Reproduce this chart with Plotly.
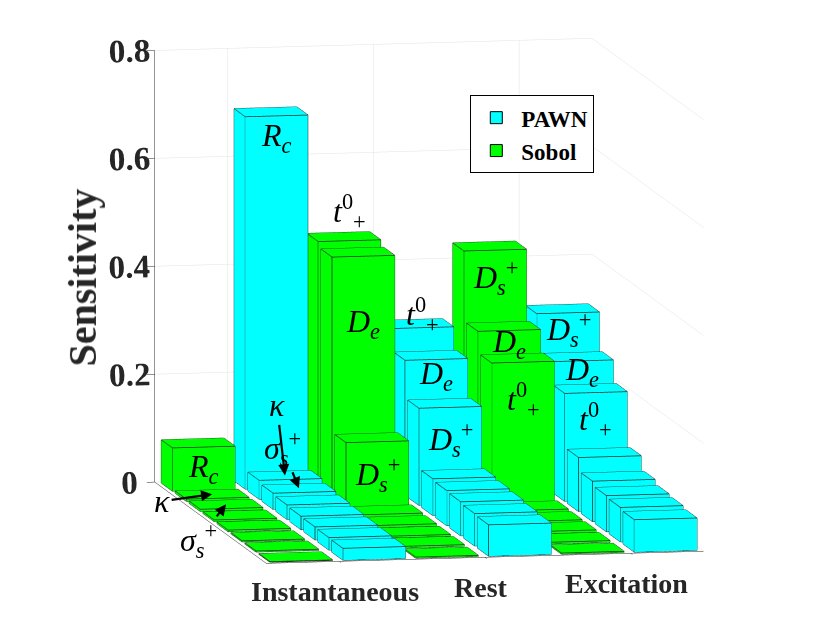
# %% Sensitivity bar3 chart (PAWN vs Sobol) rebuilt with Plotly mesh3d

import plotly.graph_objects as go


# %% Data

categories = ["Instantaneous", "Rest", "Excitation"]
methods = ["Sobol", "PAWN"]

# Each column is sorted from the back row to the front row (8 parameters).
sobol_instantaneous = [0.080, 0.004, 0.004, 0.003, 0.003, 0.002, 0.002, 0.001]
pawn_instantaneous = [0.690, 0.035, 0.030, 0.027, 0.025, 0.024, 0.023, 0.022]
sobol_rest = [0.455, 0.445, 0.120, 0.005, 0.004, 0.003, 0.003, 0.002]
pawn_rest = [0.290, 0.250, 0.180, 0.068, 0.065, 0.063, 0.060, 0.058]
sobol_excitation = [0.430, 0.300, 0.260, 0.005, 0.004, 0.004, 0.003, 0.002]
pawn_excitation = [0.310, 0.240, 0.200, 0.100, 0.075, 0.067, 0.064, 0.060]

# Parameter names of the labelled rows in each column.
names_sobol_instantaneous = ["Rc", "kappa", "sigma_s+"]
names_pawn_instantaneous = ["Rc", "kappa", "sigma_s+"]
names_sobol_rest = ["t+0", "De", "Ds+"]
names_pawn_rest = ["t+0", "De", "Ds+"]
names_sobol_excitation = ["Ds+", "De", "t+0"]
names_pawn_excitation = ["Ds+", "De", "t+0"]

category_ticks = [1.5, 3.5, 5.5]
z_ticks = [0, 0.2, 0.4, 0.6, 0.8]
z_tick_text = ["0", "0.2", "0.4", "0.6", "0.8"]


# %% Styles

colors = {"PAWN": "#00FFFF", "Sobol": "#00FF00"}
edge_color = "#2a2a2a"
axis_color = "#262626"
serif = "Liberation Serif"
bar_width = 0.86
bar_depth = 0.8

math_text = {
    "Rc": "<i>R</i><sub><i>c</i></sub>",
    "kappa": "<i>κ</i>",
    "sigma_s+": "<i>σ</i><sub><i>s</i></sub><sup>+</sup>",
    "t+0": "<i>t</i><sup>0</sup><sub>+</sub>",
    "De": "<i>D</i><sub><i>e</i></sub>",
    "Ds+": "<i>D</i><sub><i>s</i></sub><sup>+</sup>",
}

columns = [
    ("Sobol", sobol_instantaneous, names_sobol_instantaneous),
    ("PAWN", pawn_instantaneous, names_pawn_instantaneous),
    ("Sobol", sobol_rest, names_sobol_rest),
    ("PAWN", pawn_rest, names_pawn_rest),
    ("Sobol", sobol_excitation, names_sobol_excitation),
    ("PAWN", pawn_excitation, names_pawn_excitation),
]
n_rows = len(sobol_instantaneous)


# %% Build boxes

def box(xc, yc, height):
    x0, x1 = xc - bar_width / 2, xc + bar_width / 2
    y0, y1 = yc - bar_depth / 2, yc + bar_depth / 2
    vx = [x0, x1, x1, x0, x0, x1, x1, x0]
    vy = [y0, y0, y1, y1, y0, y0, y1, y1]
    vz = [0, 0, 0, 0, height, height, height, height]
    tri = [(0, 1, 2), (0, 2, 3), (4, 5, 6), (4, 6, 7),
           (0, 1, 5), (0, 5, 4), (3, 2, 6), (3, 6, 7),
           (0, 3, 7), (0, 7, 4), (1, 2, 6), (1, 6, 5)]
    edges = [(0, 1), (1, 2), (2, 3), (3, 0), (4, 5), (5, 6), (6, 7), (7, 4),
             (0, 4), (1, 5), (2, 6), (3, 7)]
    return vx, vy, vz, tri, edges


meshes = {m: {"x": [], "y": [], "z": [], "i": [], "j": [], "k": []} for m in methods}
ex, ey, ez = [], [], []

for col_index, (method, values, names) in enumerate(columns):
    xc = col_index + 1
    for row, value in enumerate(values):
        yc = n_rows - row  # row 0 is the back row
        vx, vy, vz, tri, edges = box(xc, yc, value)
        mesh = meshes[method]
        base = len(mesh["x"])
        mesh["x"] += vx
        mesh["y"] += vy
        mesh["z"] += vz
        for a, b, c in tri:
            mesh["i"].append(base + a)
            mesh["j"].append(base + b)
            mesh["k"].append(base + c)
        for a, b in edges:
            ex += [vx[a], vx[b], None]
            ey += [vy[a], vy[b], None]
            ez += [vz[a], vz[b], None]

fig = go.Figure()

for method in methods:
    mesh = meshes[method]
    fig.add_trace(go.Mesh3d(
        x=mesh["x"], y=mesh["y"], z=mesh["z"],
        i=mesh["i"], j=mesh["j"], k=mesh["k"],
        color=colors[method],
        flatshading=True,
        lighting={"ambient": 1.0, "diffuse": 0.0, "specular": 0.0,
                  "roughness": 1.0, "fresnel": 0.0},
        hoverinfo="skip",
        showlegend=False,
    ))

fig.add_trace(go.Scatter3d(
    x=ex, y=ey, z=ez,
    mode="lines",
    line={"color": edge_color, "width": 1.5},
    hoverinfo="skip",
    showlegend=False,
))

# legend entries only
for method in ["PAWN", "Sobol"]:
    fig.add_trace(go.Bar(
        x=[None], y=[None], name=method,
        marker={"color": colors[method], "line": {"color": "black", "width": 1}},
    ))


# %% Labels on the bars

# (column, row, where, offset or arrow)
label_specs = [
    (0, 0, "face", 0.5), (0, 1, "arrow", (-50, 7)), (0, 2, "arrow", (-28, 36)),
    (1, 0, "top", 0.04), (1, 1, "arrow", (-8, -70)), (1, 2, "arrow", (-16, -40)),
    (2, 0, "above", 0.055), (2, 1, "top", 0.125), (2, 2, "face", 0.5),
    (3, 0, "above", 0.025), (3, 1, "top", 0.03), (3, 2, "top", 0.06),
    (4, 0, "top", 0.05), (4, 1, "top", 0.025), (4, 2, "top", 0.07),
    (5, 0, "top", 0.03), (5, 1, "top", 0.02), (5, 2, "top", 0.05),
]

scene_annotations = []
for col_index, row, where, spec in label_specs:
    method, values, names = columns[col_index]
    value = values[row]
    text = math_text[names[row]]
    x = col_index + 1
    y_front = n_rows - row - bar_depth / 2
    ann = {"x": x, "y": y_front, "text": text, "showarrow": False,
           "font": {"family": serif, "size": 32, "color": "black"}}
    if where == "face":
        ann["z"] = value * spec
    elif where == "top":
        ann["z"] = value - spec
    elif where == "above":
        ann["z"] = value + spec
    else:
        ann.update({"y": n_rows - row, "z": value, "showarrow": True,
                    "ax": spec[0], "ay": spec[1], "arrowhead": 2,
                    "arrowsize": 1, "arrowwidth": 2.2, "arrowcolor": "black"})
    scene_annotations.append(ann)

# category names under the front edge of the floor
for tick, name in zip(category_ticks, categories):
    scene_annotations.append({
        "x": tick, "y": 0.5, "z": 0, "text": name, "showarrow": False,
        "yshift": -30, "xshift": -4,
        "font": {"family": serif, "size": 28, "color": axis_color,
                 "weight": "bold"},
    })


# %% Layout

axis_common = {
    "showbackground": False,
    "gridcolor": "#e3e3e3",
    "gridwidth": 1,
    "showline": True,
    "linecolor": axis_color,
    "linewidth": 1,
    "zeroline": False,
    "showspikes": False,
    "title": {"text": ""},
}

fig.update_layout(
    template="none",
    width=830,
    height=623,
    paper_bgcolor="white",
    plot_bgcolor="white",
    margin={"l": 0, "r": 0, "t": 0, "b": 0},
    xaxis={"visible": False},
    yaxis={"visible": False},
    scene={
        "domain": {"x": [0, 1], "y": [0, 1]},
        "xaxis": {**axis_common, "range": [0.5, 6.5],
                  "tickvals": category_ticks, "showticklabels": False,
                  "ticks": "outside", "ticklen": 8, "tickcolor": axis_color},
        "yaxis": {**axis_common, "range": [0.5, n_rows + 0.5],
                  "showticklabels": False, "showgrid": False, "ticks": ""},
        "zaxis": {**axis_common, "range": [0, 0.8],
                  "tickvals": z_ticks, "ticktext": z_tick_text,
                  "ticks": "outside", "ticklen": 8, "tickcolor": axis_color,
                  "tickfont": {"family": serif, "size": 20, "color": axis_color,
                               "weight": "bold"}},
        "aspectmode": "manual",
        "aspectratio": {"x": 1.43, "y": 1.87, "z": 1.40},
        "camera": {
            "projection": {"type": "orthographic"},
            "eye": {"x": -0.24, "y": -1.128, "z": 0.105},
            "center": {"x": -0.02, "y": 0, "z": -0.06},
            "up": {"x": 0, "y": 0, "z": 1},
        },
        "annotations": scene_annotations,
    },
    legend={
        "x": 0.557, "y": 0.86, "xanchor": "left", "yanchor": "top",
        "bgcolor": "white", "bordercolor": "black", "borderwidth": 1,
        "font": {"family": serif, "size": 23, "color": "black", "weight": "bold"},
        "itemwidth": 40, "tracegroupgap": 0,
    },
    annotations=[{
        "text": "Sensitivity",
        "xref": "paper", "yref": "paper",
        "x": 0.09, "y": 0.567, "xanchor": "center", "yanchor": "middle",
        "textangle": -90, "showarrow": False,
        "font": {"family": serif, "size": 40, "color": axis_color,
                 "weight": "bold"},
    }],
)

fig.write_html("out.html")
